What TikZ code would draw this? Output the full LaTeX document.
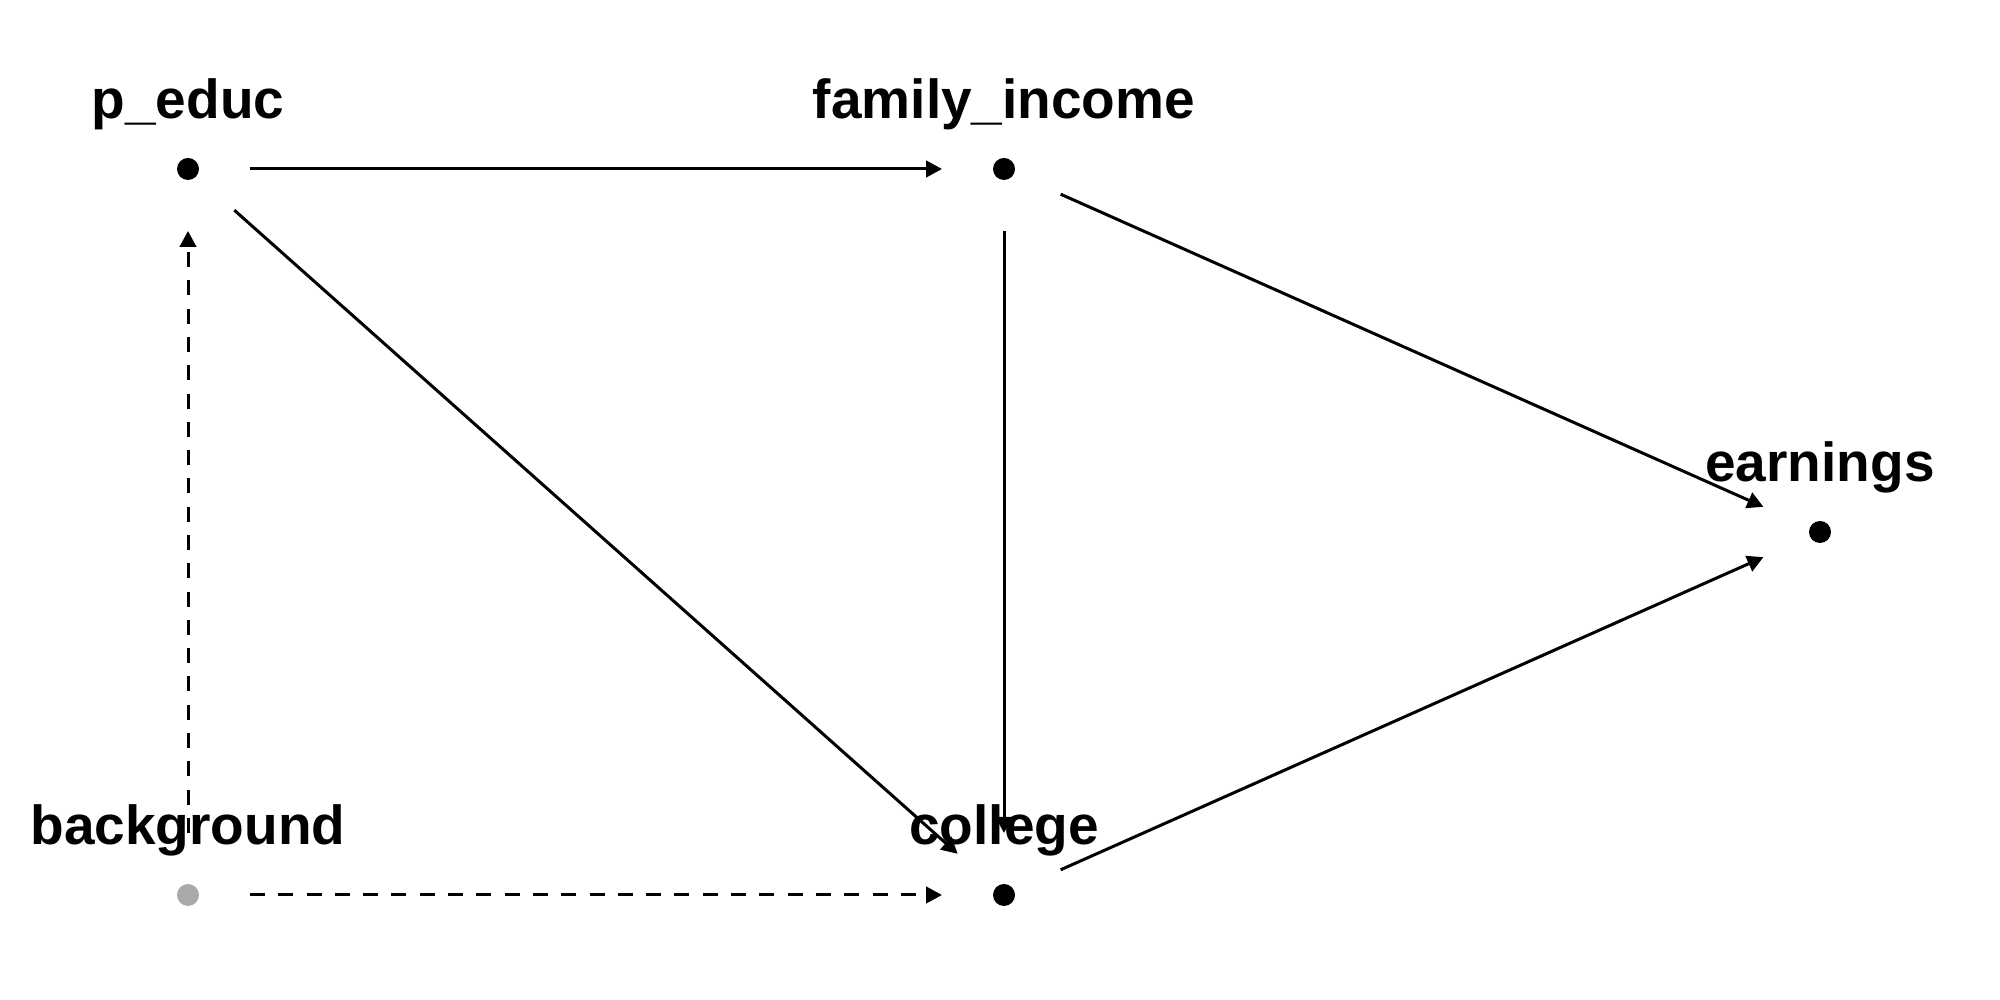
\documentclass[tikz,border=0pt]{standalone}
\usepackage{fontspec}
\setmainfont{Liberation Sans}
\usetikzlibrary{arrows.meta}
\definecolor{dotgray}{RGB}{169,169,169}
\begin{document}
\begin{tikzpicture}[
  x=1cm,y=1cm,
  dot/.style={circle,fill=black,inner sep=0pt,minimum size=0.22cm},
  graydot/.style={dot,fill=dotgray},
  lbl/.style={anchor=base,inner sep=0pt,font=\fontsize{15.65pt}{18pt}\selectfont\bfseries},
  edge/.style={line width=0.03cm,shorten <=0.62cm,shorten >=0.62cm,
    -{Triangle[length=0.16cm,width=0.165cm]}},
  dashedge/.style={edge,dash pattern=on 0.15cm off 0.133cm}
]
\useasboundingbox (0,0) rectangle (20,-10);
% dots
\node[dot] (peduc) at (1.88,-1.69) {};
\node[dot] (finc) at (10.04,-1.69) {};
\node[dot] (earn) at (18.20,-5.32) {};
\node[graydot] (bg) at (1.88,-8.95) {};
\node[dot] (coll) at (10.04,-8.95) {};
% labels
\node[lbl] (lpeduc) at (1.88,-1.19) {p\_educ};
\node[lbl] (lfinc) at (10.04,-1.19) {family\_income};
\node[lbl] (learn) at (18.20,-4.82) {earnings};
\node[lbl] (lbg) at (1.88,-8.45) {background};
\node[lbl] (lcoll) at (10.04,-8.45) {college};
% edges
\draw[edge] (peduc.center) -- (finc.center);
\draw[edge] (peduc.center) -- (coll.center);
\draw[edge] (finc.center) -- (earn.center);
\draw[edge] (finc.center) -- (coll.center);
\draw[edge] (coll.center) -- (earn.center);
\draw[dashedge] (bg.center) -- (peduc.center);
\draw[dashedge] (bg.center) -- (coll.center);
\end{tikzpicture}
\end{document}
